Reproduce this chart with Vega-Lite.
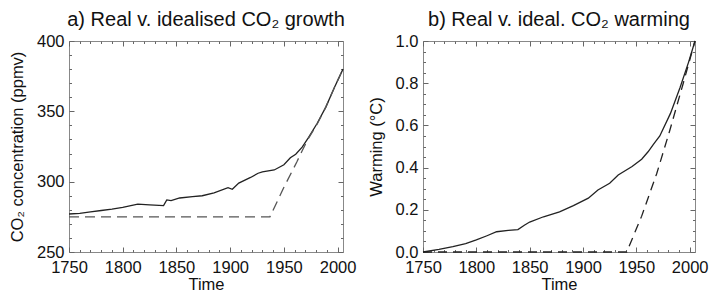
{
  "$schema": "https://vega.github.io/schema/vega-lite/v6.json",
  "padding": {"left": 8, "top": 9, "right": 16, "bottom": 0},
  "background": "white",
  "config": {
    "font": "Liberation Sans",
    "view": {"stroke": "#888", "strokeWidth": 1},
    "axis": {"ticks": true, "zindex": 2, "grid": false, "domain": false, "tickColor": "#666", "tickWidth": 1, "labelFontSize": 16.5, "titleFontSize": 16.5, "titleFontWeight": "normal", "labelColor": "#111", "titleColor": "#111", "labelOverlap": false, "labelBound": false, "labelFlush": false},
    "title": {"fontSize": 20, "fontWeight": "normal", "color": "#111"}
  },
  "datasets": {
    "a": [
      {"Year": 1750, "v": 277, "s": "real"},
      {"Year": 1760, "v": 277.5, "s": "real"},
      {"Year": 1770, "v": 278.5, "s": "real"},
      {"Year": 1780, "v": 279.5, "s": "real"},
      {"Year": 1790, "v": 280.5, "s": "real"},
      {"Year": 1800, "v": 281.7, "s": "real"},
      {"Year": 1814, "v": 284, "s": "real"},
      {"Year": 1825, "v": 283.5, "s": "real"},
      {"Year": 1838, "v": 283, "s": "real"},
      {"Year": 1841, "v": 287, "s": "real"},
      {"Year": 1845, "v": 286.5, "s": "real"},
      {"Year": 1853, "v": 288.4, "s": "real"},
      {"Year": 1865, "v": 289.3, "s": "real"},
      {"Year": 1874, "v": 290, "s": "real"},
      {"Year": 1885, "v": 292, "s": "real"},
      {"Year": 1898, "v": 295.7, "s": "real"},
      {"Year": 1902, "v": 294.6, "s": "real"},
      {"Year": 1908, "v": 299, "s": "real"},
      {"Year": 1919, "v": 303, "s": "real"},
      {"Year": 1926, "v": 306, "s": "real"},
      {"Year": 1930, "v": 307, "s": "real"},
      {"Year": 1941, "v": 308.3, "s": "real"},
      {"Year": 1950, "v": 312, "s": "real"},
      {"Year": 1956, "v": 317, "s": "real"},
      {"Year": 1961, "v": 319.5, "s": "real"},
      {"Year": 1967, "v": 324.5, "s": "real"},
      {"Year": 1973, "v": 331.5, "s": "real"},
      {"Year": 1981, "v": 341.5, "s": "real"},
      {"Year": 1989, "v": 353, "s": "real"},
      {"Year": 1997, "v": 367, "s": "real"},
      {"Year": 2005, "v": 380, "s": "real"},
      {"Year": 1750, "v": 275, "s": "ideal"},
      {"Year": 1937, "v": 275, "s": "ideal"},
      {"Year": 1950, "v": 296, "s": "ideal"},
      {"Year": 1962, "v": 314, "s": "ideal"},
      {"Year": 1967, "v": 322, "s": "ideal"},
      {"Year": 1973, "v": 331, "s": "ideal"},
      {"Year": 1981, "v": 341, "s": "ideal"},
      {"Year": 1989, "v": 353, "s": "ideal"},
      {"Year": 1997, "v": 367, "s": "ideal"},
      {"Year": 2005, "v": 380, "s": "ideal"}
    ],
    "b": [
      {"Year": 1750, "v": 0.0, "s": "real"},
      {"Year": 1765, "v": 0.012, "s": "real"},
      {"Year": 1778, "v": 0.025, "s": "real"},
      {"Year": 1790, "v": 0.04, "s": "real"},
      {"Year": 1800, "v": 0.057, "s": "real"},
      {"Year": 1810, "v": 0.077, "s": "real"},
      {"Year": 1819, "v": 0.096, "s": "real"},
      {"Year": 1830, "v": 0.102, "s": "real"},
      {"Year": 1839, "v": 0.106, "s": "real"},
      {"Year": 1845, "v": 0.127, "s": "real"},
      {"Year": 1850, "v": 0.142, "s": "real"},
      {"Year": 1863, "v": 0.167, "s": "real"},
      {"Year": 1878, "v": 0.19, "s": "real"},
      {"Year": 1891, "v": 0.22, "s": "real"},
      {"Year": 1905, "v": 0.255, "s": "real"},
      {"Year": 1914, "v": 0.294, "s": "real"},
      {"Year": 1925, "v": 0.326, "s": "real"},
      {"Year": 1933, "v": 0.365, "s": "real"},
      {"Year": 1946, "v": 0.405, "s": "real"},
      {"Year": 1955, "v": 0.44, "s": "real"},
      {"Year": 1961, "v": 0.475, "s": "real"},
      {"Year": 1966, "v": 0.51, "s": "real"},
      {"Year": 1972, "v": 0.55, "s": "real"},
      {"Year": 1982, "v": 0.657, "s": "real"},
      {"Year": 1991, "v": 0.78, "s": "real"},
      {"Year": 1999, "v": 0.9, "s": "real"},
      {"Year": 2005, "v": 1.0, "s": "real"},
      {"Year": 1750, "v": 0, "s": "ideal"},
      {"Year": 1941, "v": 0, "s": "ideal"},
      {"Year": 1955, "v": 0.17, "s": "ideal"},
      {"Year": 1969, "v": 0.37, "s": "ideal"},
      {"Year": 1981, "v": 0.57, "s": "ideal"},
      {"Year": 1994, "v": 0.8, "s": "ideal"},
      {"Year": 2005, "v": 1.0, "s": "ideal"}
    ]
  },
  "spacing": 10,
  "hconcat": [
    {
      "width": 274,
      "height": 211,
      "title": {"text": "a) Real v. idealised CO₂ growth", "offset": 3},
      "data": {"name": "a"},
      "resolve": {"axis": {"x": "independent", "y": "independent"}},
      "layer": [
        {
          "transform": [{"filter": "datum.s === 'real'"}],
          "mark": {"type": "line", "color": "#222", "strokeWidth": 1.3},
          "encoding": {
            "x": {"field": "Year", "type": "quantitative", "scale": {"domain": [1750, 2005], "nice": false, "zero": false},
                  "axis": {"orient": "bottom", "values": [1750, 1800, 1850, 1900, 1950, 2000], "format": "d", "offset": -5, "tickSize": 5, "labelPadding": 7, "title": "Time", "titlePadding": 1}},
            "y": {"field": "v", "type": "quantitative", "scale": {"domain": [250, 400], "nice": false, "zero": false},
                  "axis": {"orient": "left", "values": [250, 300, 350, 400], "offset": -5, "tickSize": 5, "labelPadding": 5, "title": "CO₂ concentration (ppmv)", "titlePadding": 11}}
          }
        },
        {
          "transform": [{"filter": "datum.s === 'ideal'"}],
          "mark": {"type": "line", "color": "#555", "strokeWidth": 1.3, "strokeDash": [10, 6]},
          "encoding": {
            "x": {"field": "Year", "type": "quantitative",
                  "axis": {"orient": "bottom", "values": [1760, 1770, 1780, 1790, 1810, 1820, 1830, 1840, 1860, 1870, 1880, 1890, 1910, 1920, 1930, 1940, 1960, 1970, 1980, 1990], "labels": false, "offset": -2.5, "tickSize": 2.5, "title": null}},
            "y": {"field": "v", "type": "quantitative",
                  "axis": {"orient": "left", "values": [260, 270, 280, 290, 310, 320, 330, 340, 360, 370, 380, 390], "labels": false, "offset": -2.5, "tickSize": 2.5, "title": null}}
          }
        },
        {
          "transform": [{"filter": "datum.s === 'real'"}],
          "mark": {"type": "line", "strokeOpacity": 0},
          "encoding": {
            "x": {"field": "Year", "type": "quantitative",
                  "axis": {"orient": "top", "values": [1750, 1800, 1850, 1900, 1950, 2000], "labels": false, "offset": -5, "tickSize": 5, "title": null}},
            "y": {"field": "v", "type": "quantitative",
                  "axis": {"orient": "right", "values": [250, 300, 350, 400], "labels": false, "offset": -5, "tickSize": 5, "title": null}}
          }
        },
        {
          "transform": [{"filter": "datum.s === 'real'"}],
          "mark": {"type": "line", "strokeOpacity": 0},
          "encoding": {
            "x": {"field": "Year", "type": "quantitative",
                  "axis": {"orient": "top", "values": [1760, 1770, 1780, 1790, 1810, 1820, 1830, 1840, 1860, 1870, 1880, 1890, 1910, 1920, 1930, 1940, 1960, 1970, 1980, 1990], "labels": false, "offset": -2.5, "tickSize": 2.5, "title": null}},
            "y": {"field": "v", "type": "quantitative",
                  "axis": {"orient": "right", "values": [260, 270, 280, 290, 310, 320, 330, 340, 360, 370, 380, 390], "labels": false, "offset": -2.5, "tickSize": 2.5, "title": null}}
          }
        }
      ]
    },
    {
      "width": 272,
      "height": 211,
      "title": {"text": "b) Real v. ideal. CO₂ warming", "offset": 3},
      "data": {"name": "b"},
      "resolve": {"axis": {"x": "independent", "y": "independent"}},
      "layer": [
        {
          "transform": [{"filter": "datum.s === 'real'"}],
          "mark": {"type": "line", "color": "#222", "strokeWidth": 1.3},
          "encoding": {
            "x": {"field": "Year", "type": "quantitative", "scale": {"domain": [1750, 2005], "nice": false, "zero": false},
                  "axis": {"orient": "bottom", "values": [1750, 1800, 1850, 1900, 1950, 2000], "format": "d", "offset": -5, "tickSize": 5, "labelPadding": 7, "title": "Time", "titlePadding": 1}},
            "y": {"field": "v", "type": "quantitative", "scale": {"domain": [0, 1], "nice": false, "zero": false},
                  "axis": {"orient": "left", "values": [0, 0.2, 0.4, 0.6, 0.8, 1.0], "format": ".1f", "offset": -5, "tickSize": 5, "labelPadding": 5, "title": "Warming (°C)", "titlePadding": 11}}
          }
        },
        {
          "transform": [{"filter": "datum.s === 'ideal'"}],
          "mark": {"type": "line", "color": "#222", "strokeWidth": 1.3, "strokeDash": [9, 6]},
          "encoding": {
            "x": {"field": "Year", "type": "quantitative",
                  "axis": {"orient": "bottom", "values": [1760, 1770, 1780, 1790, 1810, 1820, 1830, 1840, 1860, 1870, 1880, 1890, 1910, 1920, 1930, 1940, 1960, 1970, 1980, 1990], "labels": false, "offset": -2.5, "tickSize": 2.5, "title": null}},
            "y": {"field": "v", "type": "quantitative",
                  "axis": {"orient": "left", "values": [0.05, 0.1, 0.15, 0.25, 0.3, 0.35, 0.45, 0.5, 0.55, 0.65, 0.7, 0.75, 0.85, 0.9, 0.95], "labels": false, "offset": -2.5, "tickSize": 2.5, "title": null}}
          }
        },
        {
          "transform": [{"filter": "datum.s === 'real'"}],
          "mark": {"type": "line", "strokeOpacity": 0},
          "encoding": {
            "x": {"field": "Year", "type": "quantitative",
                  "axis": {"orient": "top", "values": [1750, 1800, 1850, 1900, 1950, 2000], "labels": false, "offset": -5, "tickSize": 5, "title": null}},
            "y": {"field": "v", "type": "quantitative",
                  "axis": {"orient": "right", "values": [0, 0.2, 0.4, 0.6, 0.8, 1.0], "labels": false, "offset": -5, "tickSize": 5, "title": null}}
          }
        },
        {
          "transform": [{"filter": "datum.s === 'real'"}],
          "mark": {"type": "line", "strokeOpacity": 0},
          "encoding": {
            "x": {"field": "Year", "type": "quantitative",
                  "axis": {"orient": "top", "values": [1760, 1770, 1780, 1790, 1810, 1820, 1830, 1840, 1860, 1870, 1880, 1890, 1910, 1920, 1930, 1940, 1960, 1970, 1980, 1990], "labels": false, "offset": -2.5, "tickSize": 2.5, "title": null}},
            "y": {"field": "v", "type": "quantitative",
                  "axis": {"orient": "right", "values": [0.05, 0.1, 0.15, 0.25, 0.3, 0.35, 0.45, 0.5, 0.55, 0.65, 0.7, 0.75, 0.85, 0.9, 0.95], "labels": false, "offset": -2.5, "tickSize": 2.5, "title": null}}
          }
        }
      ]
    }
  ]
}
